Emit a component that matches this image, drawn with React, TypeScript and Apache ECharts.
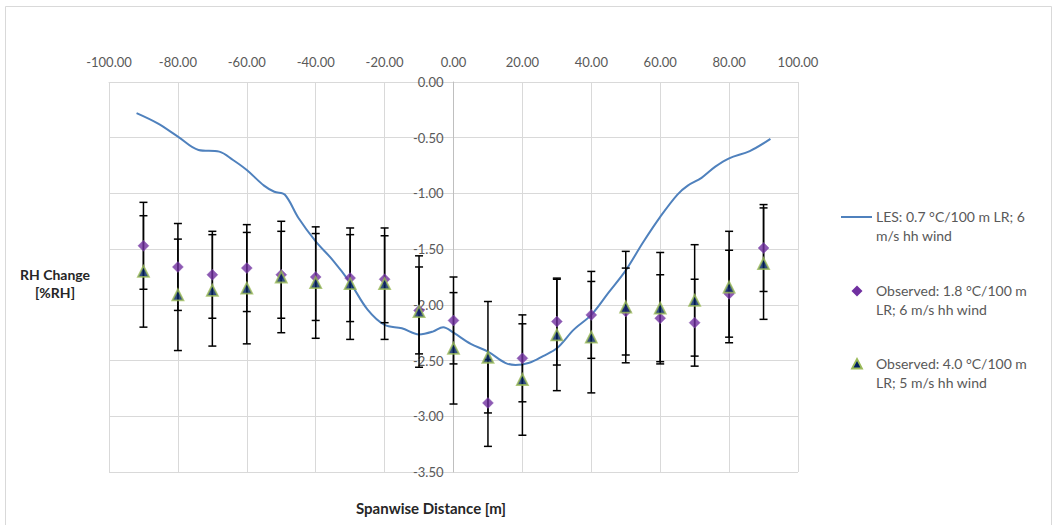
import React, { useEffect, useRef } from "react";
import * as echarts from "echarts";

const xPositions = [-90, -80, -70, -60, -50, -40, -30, -20, -10, 0, 10, 20, 30, 40, 50, 60, 70, 80, 90];
const obs18 = [-1.47, -1.66, -1.73, -1.67, -1.73, -1.75, -1.76, -1.77, -2.05, -2.14, -2.88, -2.48, -2.15, -2.09, -2.06, -2.12, -2.16, -1.90, -1.49];
const obs18Err = [0.39, 0.39, 0.39, 0.39, 0.39, 0.39, 0.39, 0.39, 0.39, 0.39, 0.39, 0.39, 0.39, 0.39, 0.39, 0.39, 0.39, 0.39, 0.39];
const obs40 = [-1.70, -1.91, -1.87, -1.85, -1.75, -1.80, -1.81, -1.81, -2.06, -2.39, -2.47, -2.67, -2.27, -2.29, -2.02, -2.03, -1.96, -1.84, -1.63];
const obs40Err = [0.50, 0.50, 0.50, 0.50, 0.50, 0.50, 0.50, 0.50, 0.50, 0.50, 0.50, 0.50, 0.50, 0.50, 0.50, 0.50, 0.50, 0.50, 0.50];

const lesX = [-92, -86, -80, -74, -68, -64, -60, -55, -52, -49, -45, -40, -35, -30, -25, -20, -15, -10, -6, -3, 0, 5, 10, 15, 18, 22, 26, 30, 35, 40, 45, 50, 55, 60, 65, 68, 72, 76, 80, 86, 92];
const lesY = [-0.28, -0.37, -0.49, -0.61, -0.625, -0.70, -0.79, -0.93, -0.985, -1.01, -1.22, -1.43, -1.60, -1.80, -2.04, -2.18, -2.21, -2.265, -2.24, -2.20, -2.25, -2.35, -2.42, -2.52, -2.54, -2.52, -2.46, -2.39, -2.22, -2.09, -1.89, -1.69, -1.44, -1.21, -1.01, -0.93, -0.86, -0.76, -0.685, -0.62, -0.51];

const xTicks = { min: -100, max: 100, interval: 20 };
const yTicks = { min: -3.5, max: 0, interval: 0.5 };

const legendNames = [
  "LES: 0.7 °C/100 m LR; 6\nm/s hh wind",
  "Observed: 1.8 °C/100 m\nLR; 6 m/s hh wind",
  "Observed: 4.0 °C/100 m\nLR; 5 m/s hh wind",
];

const FONT = "Lato, 'Liberation Sans', sans-serif";
const GRID = "#d9d9d9";
const LABEL = "#595959";
const LES_COLOR = "#4F81BD";
const PURPLE = "#7030A0";
const NAVY = "#002060";
const GREEN = "#9BBB59";

const GRID_LEFT = 109;
const GRID_RIGHT_PX = 798;

function errorBarRender(params: any, api: any) {
  const x = api.value(0);
  const lo = api.value(1);
  const hi = api.value(2);
  const pHi = api.coord([x, hi]);
  const pLo = api.coord([x, lo]);
  const w = 4;
  const style = { stroke: "#000", lineWidth: 1.5 };
  return {
    type: "group",
    children: [
      { type: "line", shape: { x1: pHi[0], y1: pHi[1], x2: pLo[0], y2: pLo[1] }, style },
      { type: "line", shape: { x1: pHi[0] - w, y1: pHi[1], x2: pHi[0] + w, y2: pHi[1] }, style },
      { type: "line", shape: { x1: pLo[0] - w, y1: pLo[1], x2: pLo[0] + w, y2: pLo[1] }, style },
    ],
  };
}

export default function App() {
  const ref = useRef<HTMLDivElement>(null);
  useEffect(() => {
    if (!ref.current) return;
    const chart = echarts.init(ref.current, null, { renderer: "svg" });
    const les = lesX.map((x, i) => [x, lesY[i]]);
    const s18 = xPositions.map((x, i) => [x, obs18[i]]);
    const s40 = xPositions.map((x, i) => [x, obs40[i]]);
    const e18 = xPositions.map((x, i) => [x, obs18[i] - obs18Err[i], obs18[i] + obs18Err[i]]);
    const e40 = xPositions.map((x, i) => [x, obs40[i] - obs40Err[i], obs40[i] + obs40Err[i]]);

    // y axis crosses the x axis at x = 0
    const zeroFrac = (0 - xTicks.min) / (xTicks.max - xTicks.min);
    const yAxisOffset = -(GRID_RIGHT_PX - GRID_LEFT) * zeroFrac;

    chart.setOption({
      animation: false,
      backgroundColor: "#ffffff",
      textStyle: { fontFamily: FONT },
      grid: { left: GRID_LEFT, right: 1058 - GRID_RIGHT_PX, top: 82, bottom: 53, containLabel: false },
      xAxis: {
        type: "value",
        position: "top",
        min: xTicks.min,
        max: xTicks.max,
        interval: xTicks.interval,
        axisLine: { show: true, onZero: false, lineStyle: { color: GRID, width: 1 } },
        axisTick: { show: false },
        axisLabel: {
          color: LABEL,
          fontSize: 13,
          fontFamily: FONT,
          margin: 14,
          formatter: (v: number) => v.toFixed(2),
        },
        splitLine: { show: true, lineStyle: { color: GRID, width: 1 } },
      },
      yAxis: {
        type: "value",
        position: "left",
        offset: yAxisOffset,
        min: yTicks.min,
        max: yTicks.max,
        interval: yTicks.interval,
        axisLine: { show: true, onZero: false, lineStyle: { color: "#bfbfbf", width: 1 } },
        axisTick: { show: false },
        axisLabel: {
          color: LABEL,
          fontSize: 13,
          fontFamily: FONT,
          margin: 10,
          formatter: (v: number) => v.toFixed(2),
        },
        splitLine: { show: true, lineStyle: { color: GRID, width: 1 } },
        z: 1,
      },
      series: [
        {
          name: legendNames[0],
          type: "line",
          data: les,
          smooth: 0.35,
          symbol: "none",
          lineStyle: { color: LES_COLOR, width: 2 },
          z: 2,
        },
        {
          name: "err18",
          type: "custom",
          renderItem: errorBarRender,
          data: e18,
          encode: { x: 0, y: [1, 2] },
          z: 3,
          silent: true,
        },
        {
          name: "err40",
          type: "custom",
          renderItem: errorBarRender,
          data: e40,
          encode: { x: 0, y: [1, 2] },
          z: 3,
          silent: true,
        },
        {
          name: legendNames[1],
          type: "scatter",
          data: s18,
          symbol: "diamond",
          symbolSize: 11,
          itemStyle: { color: PURPLE, borderColor: "#8a5bb5", borderWidth: 0.5 },
          z: 4,
        },
        {
          name: legendNames[2],
          type: "scatter",
          data: s40,
          symbol: "triangle",
          symbolSize: 11,
          itemStyle: { color: NAVY, borderColor: GREEN, borderWidth: 1.8 },
          z: 5,
        },
      ],
      graphic: [
        {
          type: "rect",
          shape: { x: 5.5, y: 6.5, width: 1046, height: 540 },
          style: { fill: "none", stroke: GRID, lineWidth: 1 },
          silent: true,
          z: -1,
        },
        {
          type: "text",
          x: 55,
          y: 265,
          style: {
            text: "RH Change\n[%RH]",
            fontFamily: FONT,
            fontSize: 14,
            fontWeight: "bold",
            fill: "#262626",
            align: "center",
            verticalAlign: "top",
            lineHeight: 18,
          },
        },
        {
          type: "text",
          x: 431,
          y: 500,
          style: {
            text: "Spanwise Distance [m]",
            fontFamily: FONT,
            fontSize: 15,
            fontWeight: "bold",
            fill: "#262626",
            align: "center",
            verticalAlign: "top",
          },
        },
        {
          type: "line",
          shape: { x1: 841, y1: 217, x2: 872, y2: 217 },
          style: { stroke: LES_COLOR, lineWidth: 2 },
        },
        {
          type: "text",
          x: 876,
          y: 207,
          style: { text: legendNames[0], fontFamily: FONT, fontSize: 14, fill: LABEL, verticalAlign: "top", lineHeight: 19 },
        },
        {
          type: "polygon",
          shape: { points: [[857, 285.5], [862.5, 291], [857, 296.5], [851.5, 291]] },
          style: { fill: PURPLE },
        },
        {
          type: "text",
          x: 876,
          y: 281,
          style: { text: legendNames[1], fontFamily: FONT, fontSize: 14, fill: LABEL, verticalAlign: "top", lineHeight: 19 },
        },
        {
          type: "polygon",
          shape: { points: [[857, 359], [862, 368.5], [852, 368.5]] },
          style: { fill: NAVY, stroke: GREEN, lineWidth: 1.8 },
        },
        {
          type: "text",
          x: 876,
          y: 354,
          style: { text: legendNames[2], fontFamily: FONT, fontSize: 14, fill: LABEL, verticalAlign: "top", lineHeight: 19 },
        },
      ],
    });
    return () => chart.dispose();
  }, []);
  return (
    <div
      ref={ref}
      style={{ position: "absolute", left: 0, top: 0, width: 1058, height: 525 }}
    />
  );
}
